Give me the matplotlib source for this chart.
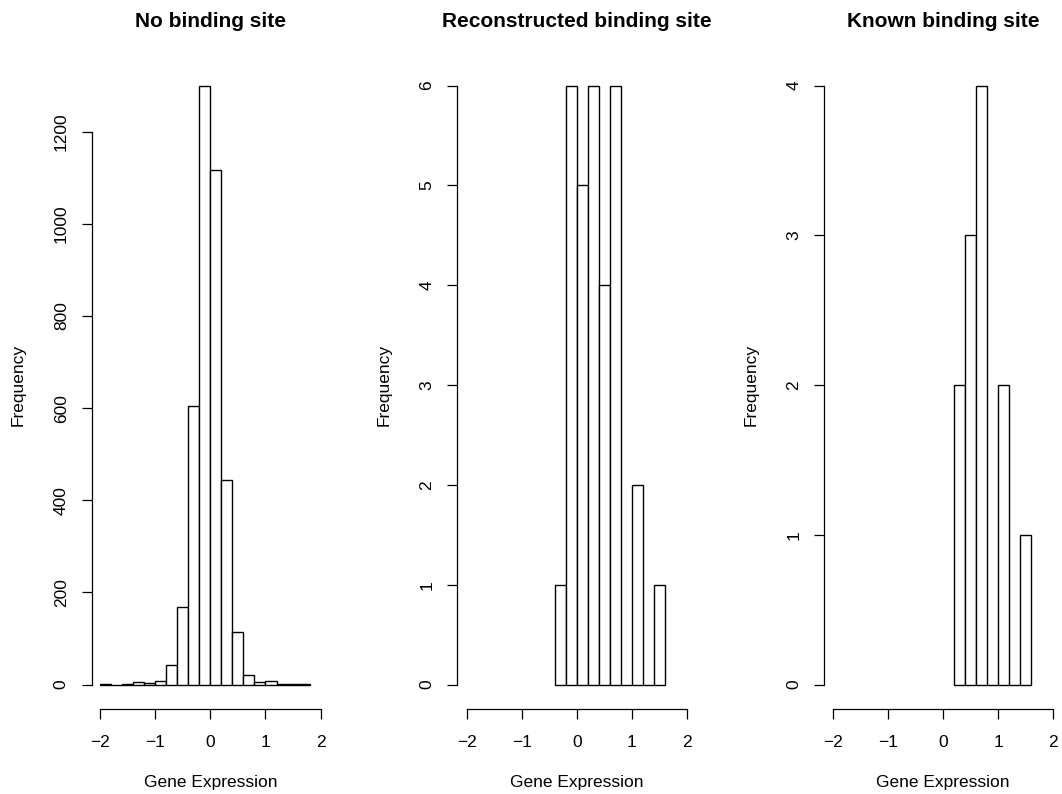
import matplotlib
matplotlib.use("Agg")
import matplotlib.pyplot as plt
import numpy as np

plt.rcParams['font.family'] = ['Liberation Sans', 'DejaVu Sans']

# ---- data ----
titles = ["No binding site", "Reconstructed binding site", "Known binding site"]
xlabel = "Gene Expression"
ylabel = "Frequency"

no_site_edges = [-2.0, -1.8, -1.6, -1.4, -1.2, -1.0, -0.8, -0.6, -0.4, -0.2,
                 0.0, 0.2, 0.4, 0.6, 0.8, 1.0, 1.2, 1.4, 1.6, 1.8]
no_site_counts = [1, 0, 1, 6, 4, 8, 42, 168, 605, 1300,
                  1117, 445, 113, 20, 5, 8, 1, 2, 1]

recon_edges = [-0.4, -0.2, 0.0, 0.2, 0.4, 0.6, 0.8, 1.0, 1.2, 1.4, 1.6]
recon_counts = [1, 6, 5, 6, 4, 6, 0, 2, 0, 1]

known_edges = [0.2, 0.4, 0.6, 0.8, 1.0, 1.2, 1.4, 1.6]
known_counts = [2, 3, 4, 0, 2, 0, 1]

x_ticks = [-2, -1, 0, 1, 2]
y_ticks_list = [[0, 200, 400, 600, 800, 1000, 1200],
                [0, 1, 2, 3, 4, 5, 6],
                [0, 1, 2, 3, 4]]

edges_list = [no_site_edges, recon_edges, known_edges]
counts_list = [no_site_counts, recon_counts, known_counts]

# ---- layout (pixels) ----
W, H = 1062, 794
fig = plt.figure(figsize=(W / 100, H / 100), dpi=100)

panel_left_px = [91.7, 457.3, 824.3]
panel_xhalf = [2.15, 2.171, 2.152]
px_per_unit = [55.17, 55.0, 55.15]
top_px, bot_px = 61.7, 708.5

FS = 12.5
for i in range(3):
    edges = np.array(edges_list[i])
    counts = np.array(counts_list[i])
    ymax = counts.max()
    width_px = 2 * panel_xhalf[i] * px_per_unit[i]
    ax = fig.add_axes([panel_left_px[i] / W, 1 - bot_px / H,
                       width_px / W, (bot_px - top_px) / H])
    ax.bar(edges[:-1], counts, width=np.diff(edges), align='edge',
           facecolor='white', edgecolor='black', linewidth=1.0)
    ax.set_xlim(-panel_xhalf[i], panel_xhalf[i])
    ax.set_ylim(-0.04 * ymax, 1.04 * ymax)
    for s in ['top', 'right']:
        ax.spines[s].set_visible(False)
    yt = y_ticks_list[i]
    ax.spines['left'].set_bounds(yt[0], yt[-1])
    ax.spines['bottom'].set_bounds(x_ticks[0], x_ticks[-1])
    for s in ['left', 'bottom']:
        ax.spines[s].set_linewidth(0.9)
    ax.set_xticks(x_ticks)
    ax.set_yticks(yt)
    ax.set_yticklabels([str(v) for v in yt], rotation=90, va='center')
    ax.tick_params(axis='both', direction='out', length=7.5, width=0.9,
                   labelsize=FS)
    ax.tick_params(axis='x', pad=11.5)
    ax.tick_params(axis='y', pad=9)
    cx = (panel_left_px[i] + width_px / 2) / W
    fig.text(cx, 1 - 26.7 / H, titles[i], ha='center', va='baseline',
             fontsize=15, fontweight='bold')
    fig.text(cx, 1 - 782.7 / H, xlabel, ha='center', va='center', fontsize=FS)
    fig.text((panel_left_px[i] - 73.5) / W, 1 - (top_px + bot_px) / 2 / H,
             ylabel, ha='center', va='center', rotation=90, fontsize=FS)

fig.savefig("out.png", dpi=100)
